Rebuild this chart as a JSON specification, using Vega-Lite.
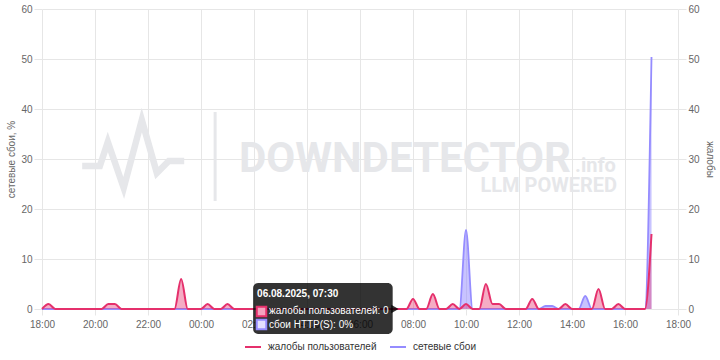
{
  "$schema": "https://vega.github.io/schema/vega-lite/v6.json",
  "width": 636,
  "height": 300,
  "autosize": {"type": "none"},
  "padding": {"left": 42, "top": 9, "right": 42, "bottom": 51},
  "background": "white",
  "config": {
    "view": {"stroke": null},
    "font": "Liberation Sans",
    "axis": {
      "labelFont": "Liberation Sans", "labelFontSize": 10, "labelColor": "#666",
      "titleFont": "Liberation Sans", "titleFontSize": 10, "titleFontWeight": "normal", "titleColor": "#666",
      "gridColor": "#e6e6e6", "tickColor": "#e6e6e6", "domain": false
    },
    "legend": {"layout": {"bottom": {"anchor": "middle"}}}
  },
  "datasets": {
    "main": [
      {"t":"2025-08-05T18:00","c":0,"f":0},{"t":"2025-08-05T18:15","c":1,"f":0},{"t":"2025-08-05T18:30","c":0,"f":0},{"t":"2025-08-05T18:45","c":0,"f":0},
      {"t":"2025-08-05T19:00","c":0,"f":0},{"t":"2025-08-05T19:15","c":0,"f":0},{"t":"2025-08-05T19:30","c":0,"f":0},{"t":"2025-08-05T19:45","c":0,"f":0},
      {"t":"2025-08-05T20:00","c":0,"f":0},{"t":"2025-08-05T20:15","c":0,"f":0},{"t":"2025-08-05T20:30","c":1,"f":0},{"t":"2025-08-05T20:45","c":1,"f":0},
      {"t":"2025-08-05T21:00","c":0,"f":0},{"t":"2025-08-05T21:15","c":0,"f":0},{"t":"2025-08-05T21:30","c":0,"f":0},{"t":"2025-08-05T21:45","c":0,"f":0},
      {"t":"2025-08-05T22:00","c":0,"f":0},{"t":"2025-08-05T22:15","c":0,"f":0},{"t":"2025-08-05T22:30","c":0,"f":0},{"t":"2025-08-05T22:45","c":0,"f":0},
      {"t":"2025-08-05T23:00","c":0,"f":0},{"t":"2025-08-05T23:15","c":6,"f":0},{"t":"2025-08-05T23:30","c":0,"f":0},{"t":"2025-08-05T23:45","c":0,"f":0},
      {"t":"2025-08-06T00:00","c":0,"f":0},{"t":"2025-08-06T00:15","c":1,"f":0},{"t":"2025-08-06T00:30","c":0,"f":0},{"t":"2025-08-06T00:45","c":0,"f":0},
      {"t":"2025-08-06T01:00","c":1,"f":0},{"t":"2025-08-06T01:15","c":0,"f":0},{"t":"2025-08-06T01:30","c":0,"f":0},{"t":"2025-08-06T01:45","c":0,"f":0},
      {"t":"2025-08-06T02:00","c":0,"f":0},{"t":"2025-08-06T02:15","c":0,"f":0},{"t":"2025-08-06T02:30","c":0,"f":0},{"t":"2025-08-06T02:45","c":0,"f":0},
      {"t":"2025-08-06T03:00","c":0,"f":0},{"t":"2025-08-06T03:15","c":0,"f":0},{"t":"2025-08-06T03:30","c":0,"f":0},{"t":"2025-08-06T03:45","c":0,"f":0},
      {"t":"2025-08-06T04:00","c":0,"f":0},{"t":"2025-08-06T04:15","c":0,"f":0},{"t":"2025-08-06T04:30","c":0,"f":0},{"t":"2025-08-06T04:45","c":0,"f":0},
      {"t":"2025-08-06T05:00","c":0,"f":0},{"t":"2025-08-06T05:15","c":0,"f":0},{"t":"2025-08-06T05:30","c":0,"f":0},{"t":"2025-08-06T05:45","c":0,"f":0},
      {"t":"2025-08-06T06:00","c":0,"f":0},{"t":"2025-08-06T06:15","c":0,"f":0},{"t":"2025-08-06T06:30","c":0,"f":0},{"t":"2025-08-06T06:45","c":0,"f":0},
      {"t":"2025-08-06T07:00","c":0,"f":0},{"t":"2025-08-06T07:15","c":0,"f":0},{"t":"2025-08-06T07:30","c":0,"f":0},{"t":"2025-08-06T07:45","c":0,"f":0},
      {"t":"2025-08-06T08:00","c":2,"f":0},{"t":"2025-08-06T08:15","c":0,"f":0},{"t":"2025-08-06T08:30","c":0,"f":0},{"t":"2025-08-06T08:45","c":3,"f":0},
      {"t":"2025-08-06T09:00","c":0,"f":0},{"t":"2025-08-06T09:15","c":0,"f":0},{"t":"2025-08-06T09:30","c":1,"f":0},{"t":"2025-08-06T09:45","c":0,"f":0},
      {"t":"2025-08-06T10:00","c":1,"f":15.8},{"t":"2025-08-06T10:15","c":0,"f":0},{"t":"2025-08-06T10:30","c":0,"f":0},{"t":"2025-08-06T10:45","c":5,"f":0},
      {"t":"2025-08-06T11:00","c":1,"f":0},{"t":"2025-08-06T11:15","c":1,"f":0},{"t":"2025-08-06T11:30","c":0,"f":0},{"t":"2025-08-06T11:45","c":0,"f":0},
      {"t":"2025-08-06T12:00","c":0,"f":0},{"t":"2025-08-06T12:15","c":0,"f":0},{"t":"2025-08-06T12:30","c":2,"f":0},{"t":"2025-08-06T12:45","c":0,"f":0},
      {"t":"2025-08-06T13:00","c":0,"f":0.6},{"t":"2025-08-06T13:15","c":0,"f":0.6},{"t":"2025-08-06T13:30","c":0,"f":0},{"t":"2025-08-06T13:45","c":1,"f":0},
      {"t":"2025-08-06T14:00","c":0,"f":0},{"t":"2025-08-06T14:15","c":0,"f":0},{"t":"2025-08-06T14:30","c":0,"f":2.6},{"t":"2025-08-06T14:45","c":0,"f":0},
      {"t":"2025-08-06T15:00","c":4,"f":0},{"t":"2025-08-06T15:15","c":0,"f":0},{"t":"2025-08-06T15:30","c":0,"f":0},{"t":"2025-08-06T15:45","c":1,"f":0},
      {"t":"2025-08-06T16:00","c":0,"f":0},{"t":"2025-08-06T16:15","c":0,"f":0},{"t":"2025-08-06T16:30","c":0,"f":0},{"t":"2025-08-06T16:45","c":0,"f":0},
      {"t":"2025-08-06T17:00","c":15,"f":50.4}
    ],
    "wm": [
      {"part":"name","label":"DOWNDETECTOR","t":"2025-08-06T01:26","v":27.4},
      {"part":"info","label":".info","t":"2025-08-06T14:07","v":27.4},
      {"part":"llm","label":"LLM POWERED","t":"2025-08-06T15:42","v":23.4}
    ],
    "pulse": [
      {"t":"2025-08-05T19:31","v":28.6},{"t":"2025-08-05T20:11","v":28.6},{"t":"2025-08-05T20:29","v":33.4},
      {"t":"2025-08-05T21:05","v":24.2},{"t":"2025-08-05T21:46","v":37.8},{"t":"2025-08-05T22:20","v":27.2},
      {"t":"2025-08-05T22:47","v":29.6},{"t":"2025-08-05T23:22","v":29.6}
    ]
  },
  "layer": [
    {
      "data": {"name": "main"},
      "mark": {"type": "area", "interpolate": "monotone", "color": "#958cff", "fillOpacity": 0.3},
      "encoding": {
        "x": {
          "field": "t", "type": "temporal",
          "scale": {"domain": [{"year": 2025, "month": 8, "date": 5, "hours": 18}, {"year": 2025, "month": 8, "date": 6, "hours": 18}], "nice": false},
          "axis": {
            "title": null, "format": "%H:%M", "grid": true, "tickSize": 6, "labelPadding": 4, "labelOverlap": false, "labelFlush": false,
            "values": [
              {"year": 2025, "month": 8, "date": 5, "hours": 18}, {"year": 2025, "month": 8, "date": 5, "hours": 20}, {"year": 2025, "month": 8, "date": 5, "hours": 22},
              {"year": 2025, "month": 8, "date": 6, "hours": 0}, {"year": 2025, "month": 8, "date": 6, "hours": 2}, {"year": 2025, "month": 8, "date": 6, "hours": 4},
              {"year": 2025, "month": 8, "date": 6, "hours": 6}, {"year": 2025, "month": 8, "date": 6, "hours": 8}, {"year": 2025, "month": 8, "date": 6, "hours": 10},
              {"year": 2025, "month": 8, "date": 6, "hours": 12}, {"year": 2025, "month": 8, "date": 6, "hours": 14}, {"year": 2025, "month": 8, "date": 6, "hours": 16},
              {"year": 2025, "month": 8, "date": 6, "hours": 18}
            ]
          }
        },
        "y": {
          "field": "f", "type": "quantitative", "scale": {"domain": [0, 60]},
          "axis": {"orient": "left", "title": "сетевые сбои, %", "values": [0, 10, 20, 30, 40, 50, 60], "grid": true, "tickSize": 8, "labelPadding": 2, "titlePadding": 4}
        }
      }
    },
    {
      "data": {"name": "pulse"},
      "mark": {"type": "line", "color": "#e6e7ea", "strokeWidth": 6.5, "strokeJoin": "miter", "strokeCap": "butt"},
      "encoding": {
        "x": {"field": "t", "type": "temporal", "axis": null},
        "y": {"field": "v", "type": "quantitative", "scale": {"domain": [0, 60]}, "axis": null}
      }
    },
    {
      "data": {"values": [{"t": "2025-08-06T00:32", "v": 21.6, "v2": 39.4}]},
      "mark": {"type": "rule", "color": "#e6e7ea", "strokeWidth": 3},
      "encoding": {
        "x": {"field": "t", "type": "temporal", "axis": null},
        "y": {"field": "v", "type": "quantitative", "scale": {"domain": [0, 60]}, "axis": null},
        "y2": {"field": "v2"}
      }
    },
    {
      "data": {"name": "wm"},
      "transform": [{"filter": "datum.part == 'name'"}],
      "mark": {"type": "text", "font": "Roboto", "fontWeight": "bold", "fontSize": 42, "color": "#e6e7ea", "align": "left", "baseline": "alphabetic"},
      "encoding": {
        "x": {"field": "t", "type": "temporal", "axis": null},
        "y": {"field": "v", "type": "quantitative", "scale": {"domain": [0, 60]}, "axis": null},
        "text": {"field": "label"}
      }
    },
    {
      "data": {"name": "wm"},
      "transform": [{"filter": "datum.part == 'info'"}],
      "mark": {"type": "text", "font": "Roboto", "fontWeight": "bold", "fontSize": 20, "color": "#e6e7ea", "align": "left", "baseline": "alphabetic"},
      "encoding": {
        "x": {"field": "t", "type": "temporal", "axis": null},
        "y": {"field": "v", "type": "quantitative", "scale": {"domain": [0, 60]}, "axis": null},
        "text": {"field": "label"}
      }
    },
    {
      "data": {"name": "wm"},
      "transform": [{"filter": "datum.part == 'llm'"}],
      "mark": {"type": "text", "font": "Roboto", "fontWeight": "bold", "fontSize": 20, "color": "#e6e7ea", "align": "right", "baseline": "alphabetic"},
      "encoding": {
        "x": {"field": "t", "type": "temporal", "axis": null},
        "y": {"field": "v", "type": "quantitative", "scale": {"domain": [0, 60]}, "axis": null},
        "text": {"field": "label"}
      }
    },
    {
      "data": {"name": "main"},
      "mark": {"type": "area", "interpolate": "monotone", "color": "#958cff", "fillOpacity": 0.3},
      "encoding": {
        "x": {"field": "t", "type": "temporal", "axis": null},
        "y": {"field": "f", "type": "quantitative", "scale": {"domain": [0, 60]}, "axis": null}
      }
    },
    {
      "data": {"name": "main"},
      "mark": {"type": "line", "interpolate": "monotone", "strokeWidth": 1.8},
      "encoding": {
        "x": {"field": "t", "type": "temporal", "axis": null},
        "y": {"field": "f", "type": "quantitative", "scale": {"domain": [0, 60]}, "axis": null},
        "color": {
          "datum": "сетевые сбои", "type": "nominal",
          "scale": {"domain": ["жалобы пользователей", "сетевые сбои"], "range": ["#e5306c", "#958cff"]},
          "legend": {"title": null, "orient": "bottom", "direction": "horizontal", "symbolType": "stroke", "symbolSize": 256, "symbolStrokeWidth": 2, "labelFontSize": 10, "labelColor": "#333", "labelFont": "Liberation Sans", "columnPadding": 9, "labelOffset": 6, "offset": 9}
        }
      }
    },
    {
      "data": {"name": "main"},
      "mark": {"type": "area", "interpolate": "monotone", "color": "#e5306c", "fillOpacity": 0.4},
      "encoding": {
        "x": {"field": "t", "type": "temporal", "axis": null},
        "y": {
          "field": "c", "type": "quantitative", "scale": {"domain": [0, 60]},
          "axis": {"orient": "right", "title": "жалобы", "values": [0, 10, 20, 30, 40, 50, 60], "grid": false, "tickSize": 8, "labelPadding": 2, "titlePadding": 5}
        }
      }
    },
    {
      "data": {"name": "main"},
      "mark": {"type": "line", "interpolate": "monotone", "strokeWidth": 2},
      "encoding": {
        "x": {"field": "t", "type": "temporal", "axis": null},
        "y": {"field": "c", "type": "quantitative", "scale": {"domain": [0, 60]}, "axis": null},
        "color": {
          "datum": "жалобы пользователей", "type": "nominal",
          "scale": {"domain": ["жалобы пользователей", "сетевые сбои"], "range": ["#e5306c", "#958cff"]},
          "legend": {"title": null, "orient": "bottom", "direction": "horizontal", "symbolType": "stroke", "symbolSize": 256, "symbolStrokeWidth": 2, "labelFontSize": 10, "labelColor": "#333", "labelFont": "Liberation Sans", "columnPadding": 9, "labelOffset": 6, "offset": 9}
        }
      }
    },
    {
      "data": {"values": [{"t": "2025-08-06T01:58", "t2": "2025-08-06T07:14", "v": 5.2, "v2": -5}]},
      "mark": {"type": "rect", "color": "#000", "opacity": 0.8, "cornerRadius": 5},
      "encoding": {
        "x": {"field": "t", "type": "temporal", "axis": null},
        "x2": {"field": "t2"},
        "y": {"field": "v", "type": "quantitative", "scale": {"domain": [0, 60]}, "axis": null},
        "y2": {"field": "v2"}
      }
    },
    {
      "data": {"values": [{"t": "2025-08-06T07:19", "v": 0}]},
      "mark": {"type": "point", "shape": "triangle-right", "filled": true, "color": "#000", "opacity": 0.8, "size": 70},
      "encoding": {
        "x": {"field": "t", "type": "temporal", "axis": null},
        "y": {"field": "v", "type": "quantitative", "scale": {"domain": [0, 60]}, "axis": null}
      }
    },
    {
      "data": {"values": [{"t": "2025-08-06T02:07", "v": 3.0, "label": "06.08.2025, 07:30"}]},
      "mark": {"type": "text", "color": "white", "fontWeight": "bold", "fontSize": 10, "font": "Liberation Sans", "align": "left", "baseline": "middle"},
      "encoding": {
        "x": {"field": "t", "type": "temporal", "axis": null},
        "y": {"field": "v", "type": "quantitative", "scale": {"domain": [0, 60]}, "axis": null},
        "text": {"field": "label"}
      }
    },
    {
      "data": {"values": [{"t": "2025-08-06T02:17", "v": -0.5}]},
      "mark": {"type": "square", "fill": "#f3a3bf", "stroke": "#e5306c", "strokeWidth": 2, "opacity": 1, "size": 90},
      "encoding": {
        "x": {"field": "t", "type": "temporal", "axis": null},
        "y": {"field": "v", "type": "quantitative", "scale": {"domain": [0, 60]}, "axis": null}
      }
    },
    {
      "data": {"values": [{"t": "2025-08-06T02:17", "v": -3.1}]},
      "mark": {"type": "square", "fill": "#e3e0ff", "stroke": "#958cff", "strokeWidth": 2, "opacity": 1, "size": 90},
      "encoding": {
        "x": {"field": "t", "type": "temporal", "axis": null},
        "y": {"field": "v", "type": "quantitative", "scale": {"domain": [0, 60]}, "axis": null}
      }
    },
    {
      "data": {"values": [{"t": "2025-08-06T02:34", "v": -0.4, "label": "жалобы пользователей: 0"}, {"t": "2025-08-06T02:34", "v": -3.2, "label": "сбои HTTP(S): 0%"}]},
      "mark": {"type": "text", "color": "white", "fontSize": 10, "font": "Liberation Sans", "align": "left", "baseline": "middle"},
      "encoding": {
        "x": {"field": "t", "type": "temporal", "axis": null},
        "y": {"field": "v", "type": "quantitative", "scale": {"domain": [0, 60]}, "axis": null},
        "text": {"field": "label"}
      }
    }
  ],
  "resolve": {"scale": {"y": "independent"}, "axis": {"x": "independent"}}
}
